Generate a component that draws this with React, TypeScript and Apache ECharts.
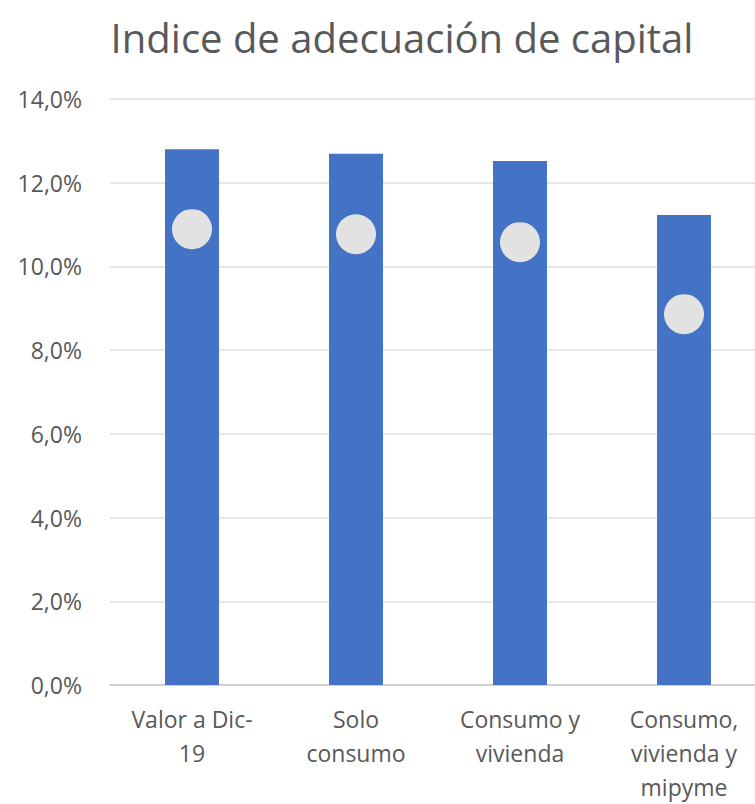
import React, { useEffect, useRef } from "react";
import * as echarts from "echarts";

const categories = ["Valor a Dic-\n19", "Solo\nconsumo", "Consumo y\nvivienda", "Consumo,\nvivienda y\nmipyme"];
const barValues = [12.8, 12.69, 12.52, 11.23];
const dotValues = [10.89, 10.77, 10.58, 8.86];
const yTicks = [0, 2, 4, 6, 8, 10, 12, 14];

export default function App() {
  const ref = useRef<HTMLDivElement>(null);
  useEffect(() => {
    if (!ref.current) return;
    const chart = echarts.init(ref.current, undefined, { renderer: "svg" });
    chart.setOption({
      animation: false,
      backgroundColor: "#ffffff",
      title: {
        text: "Indice de adecuación de capital",
        left: 397,
        top: 12,
        textAlign: "center",
        textStyle: { fontFamily: "Open Sans", fontSize: 40, fontWeight: "normal", color: "#595959" },
      },
      grid: { left: 110, right: -11, top: 99, bottom: 119, containLabel: false, outerBoundsMode: "none" },
      xAxis: {
        type: "category",
        data: categories,
        axisTick: { show: false },
        axisLine: { lineStyle: { color: "#c8c8c8", width: 1.5 } },
        axisLabel: {
          fontFamily: "Open Sans",
          fontSize: 23,
          color: "#595959",
          lineHeight: 34,
          margin: 17,
          interval: 0,
        },
      },
      yAxis: {
        type: "value",
        min: 0,
        max: 14,
        interval: 2,
        axisLine: { show: false },
        axisTick: { show: false },
        splitLine: { lineStyle: { color: "#dedede", width: 1.5 } },
        axisLabel: {
          fontFamily: "Open Sans",
          fontSize: 23,
          color: "#595959",
          margin: 28,
          formatter: (v: number) => (yTicks.includes(v) ? v.toFixed(1).replace(".", ",") + "%" : ""),
        },
      },
      series: [
        {
          type: "bar",
          data: barValues,
          barWidth: 54,
          itemStyle: { color: "#4472c4" },
        },
        {
          type: "scatter",
          data: dotValues,
          symbol: "circle",
          symbolSize: 40,
          itemStyle: { color: "#e2e2e2", opacity: 1 },
          z: 5,
        },
      ],
    });
    return () => chart.dispose();
  }, []);
  return <div ref={ref} style={{ position: "fixed", left: 0, top: 0, width: 755, height: 804 }} />;
}
